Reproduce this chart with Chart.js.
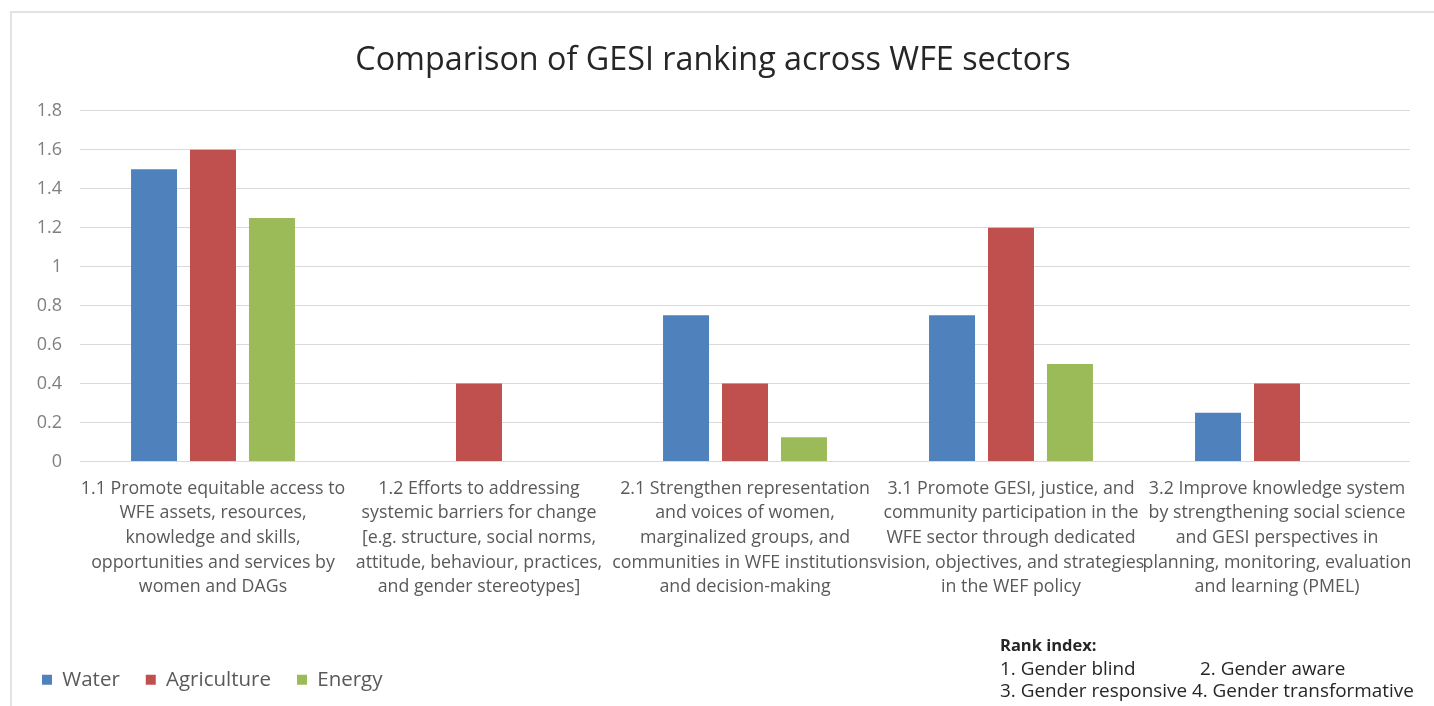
<!DOCTYPE html>
<html>
<head>
<meta charset="utf-8">
<script src="https://cdn.jsdelivr.net/npm/chart.js@4.4.1/dist/chart.umd.min.js"></script>
<style>
  html, body { margin: 0; padding: 0; background: #ffffff; }
  #wrap { position: relative; width: 1434px; height: 706px; overflow: hidden; }
  #frame { position: absolute; left: 10px; top: 11px; width: 1440px; height: 720px;
           border-left: 2px solid #e2e2e2; border-top: 2px solid #e2e2e2; }
  canvas { position: absolute; left: 0; top: 0; }
  #rank { position: absolute; left: 1000px; top: 633px; font-family: "Open Sans", sans-serif;
          font-size: 18.9px; color: #262626; line-height: 22.5px; white-space: nowrap; }
  #rank b { font-weight: 700; font-size: 16.5px; }
  #rank .col2 { position: absolute; left: 200px; }
</style>
</head>
<body>
<div id="wrap">
  <div id="frame"></div>
  <canvas id="chartGesi" width="1434" height="706"></canvas>
  <div id="rank">
    <div><b>Rank index:</b></div>
    <div>1. Gender blind<span class="col2">2. Gender aware</span></div>
    <div>3. Gender responsive 4. Gender transformative</div>
  </div>
</div>
<script>
// ============================
// DADOS
// ============================
var categorias = [
    ['1.1 Promote equitable access to', 'WFE assets, resources,', 'knowledge and skills,', 'opportunities and services by', 'women and DAGs'],
    ['1.2 Efforts to addressing', 'systemic barriers for change', '[e.g. structure, social norms,', 'attitude, behaviour, practices,', 'and gender stereotypes]'],
    ['2.1 Strengthen representation', 'and voices of women,', 'marginalized groups, and', 'communities in WFE institutions', 'and decision-making'],
    ['3.1 Promote GESI, justice, and', 'community participation in the', 'WFE sector through dedicated', 'vision, objectives, and strategies', 'in the WEF policy'],
    ['3.2 Improve knowledge system', 'by strengthening social science', 'and GESI perspectives in', 'planning, monitoring, evaluation', 'and learning (PMEL)']
];
var water       = [1.5, 0, 0.75, 0.75, 0.25];
var agriculture = [1.6, 0.4, 0.4, 1.2, 0.4];
var energy      = [1.25, 0, 0.125, 0.5, 0];
var yMin = 0, yMax = 1.8, yStep = 0.2;

var corTexto = '#595959';
var fonte = 'Open Sans';

var ctx = document.getElementById('chartGesi');

var grafico = new Chart(ctx, {
    type: 'bar',
    data: {
        labels: categorias,
        datasets: [
            { label: 'Water', data: water, backgroundColor: '#4f81bd' },
            { label: 'Agriculture', data: agriculture, backgroundColor: '#c0504d' },
            { label: 'Energy', data: energy, backgroundColor: '#9bbb59' }
        ]
    },
    options: {
        responsive: false,
        animation: false,
        categoryPercentage: 0.665,
        barPercentage: 0.78,
        layout: { padding: { left: 16, right: 24, top: 0, bottom: 6 } },
        plugins: {
            title: {
                display: true,
                text: 'Comparison of GESI ranking across WFE sectors',
                color: '#262626',
                font: { family: fonte, size: 32.3, weight: 'normal' },
                padding: { top: 41, bottom: 31 }
            },
            legend: {
                position: 'bottom',
                align: 'start',
                labels: {
                    color: corTexto,
                    font: { family: fonte, size: 20.5 },
                    boxWidth: 10,
                    boxHeight: 10,
                    padding: 26
                }
            },
            tooltip: { enabled: false }
        },
        scales: {
            x: {
                grid: { display: false },
                border: { display: false },
                ticks: {
                    color: corTexto,
                    font: { family: fonte, size: 17.8, lineHeight: 1.38 },
                    autoSkip: false,
                    maxRotation: 0,
                    padding: 7
                },
                afterFit: function (scale) { scale.height = 182; }
            },
            y: {
                min: yMin,
                max: yMax,
                border: { display: false },
                grid: { color: '#d9d9d9', drawTicks: false },
                ticks: {
                    stepSize: yStep,
                    color: '#7f7f7f',
                    font: { family: fonte, size: 18 },
                    padding: 18,
                    callback: function (valor) { return String(Number(valor.toFixed(1))); }
                },
                afterFit: function (scale) { scale.width = 64; }
            }
        }
    }
});
</script>
</body>
</html>
